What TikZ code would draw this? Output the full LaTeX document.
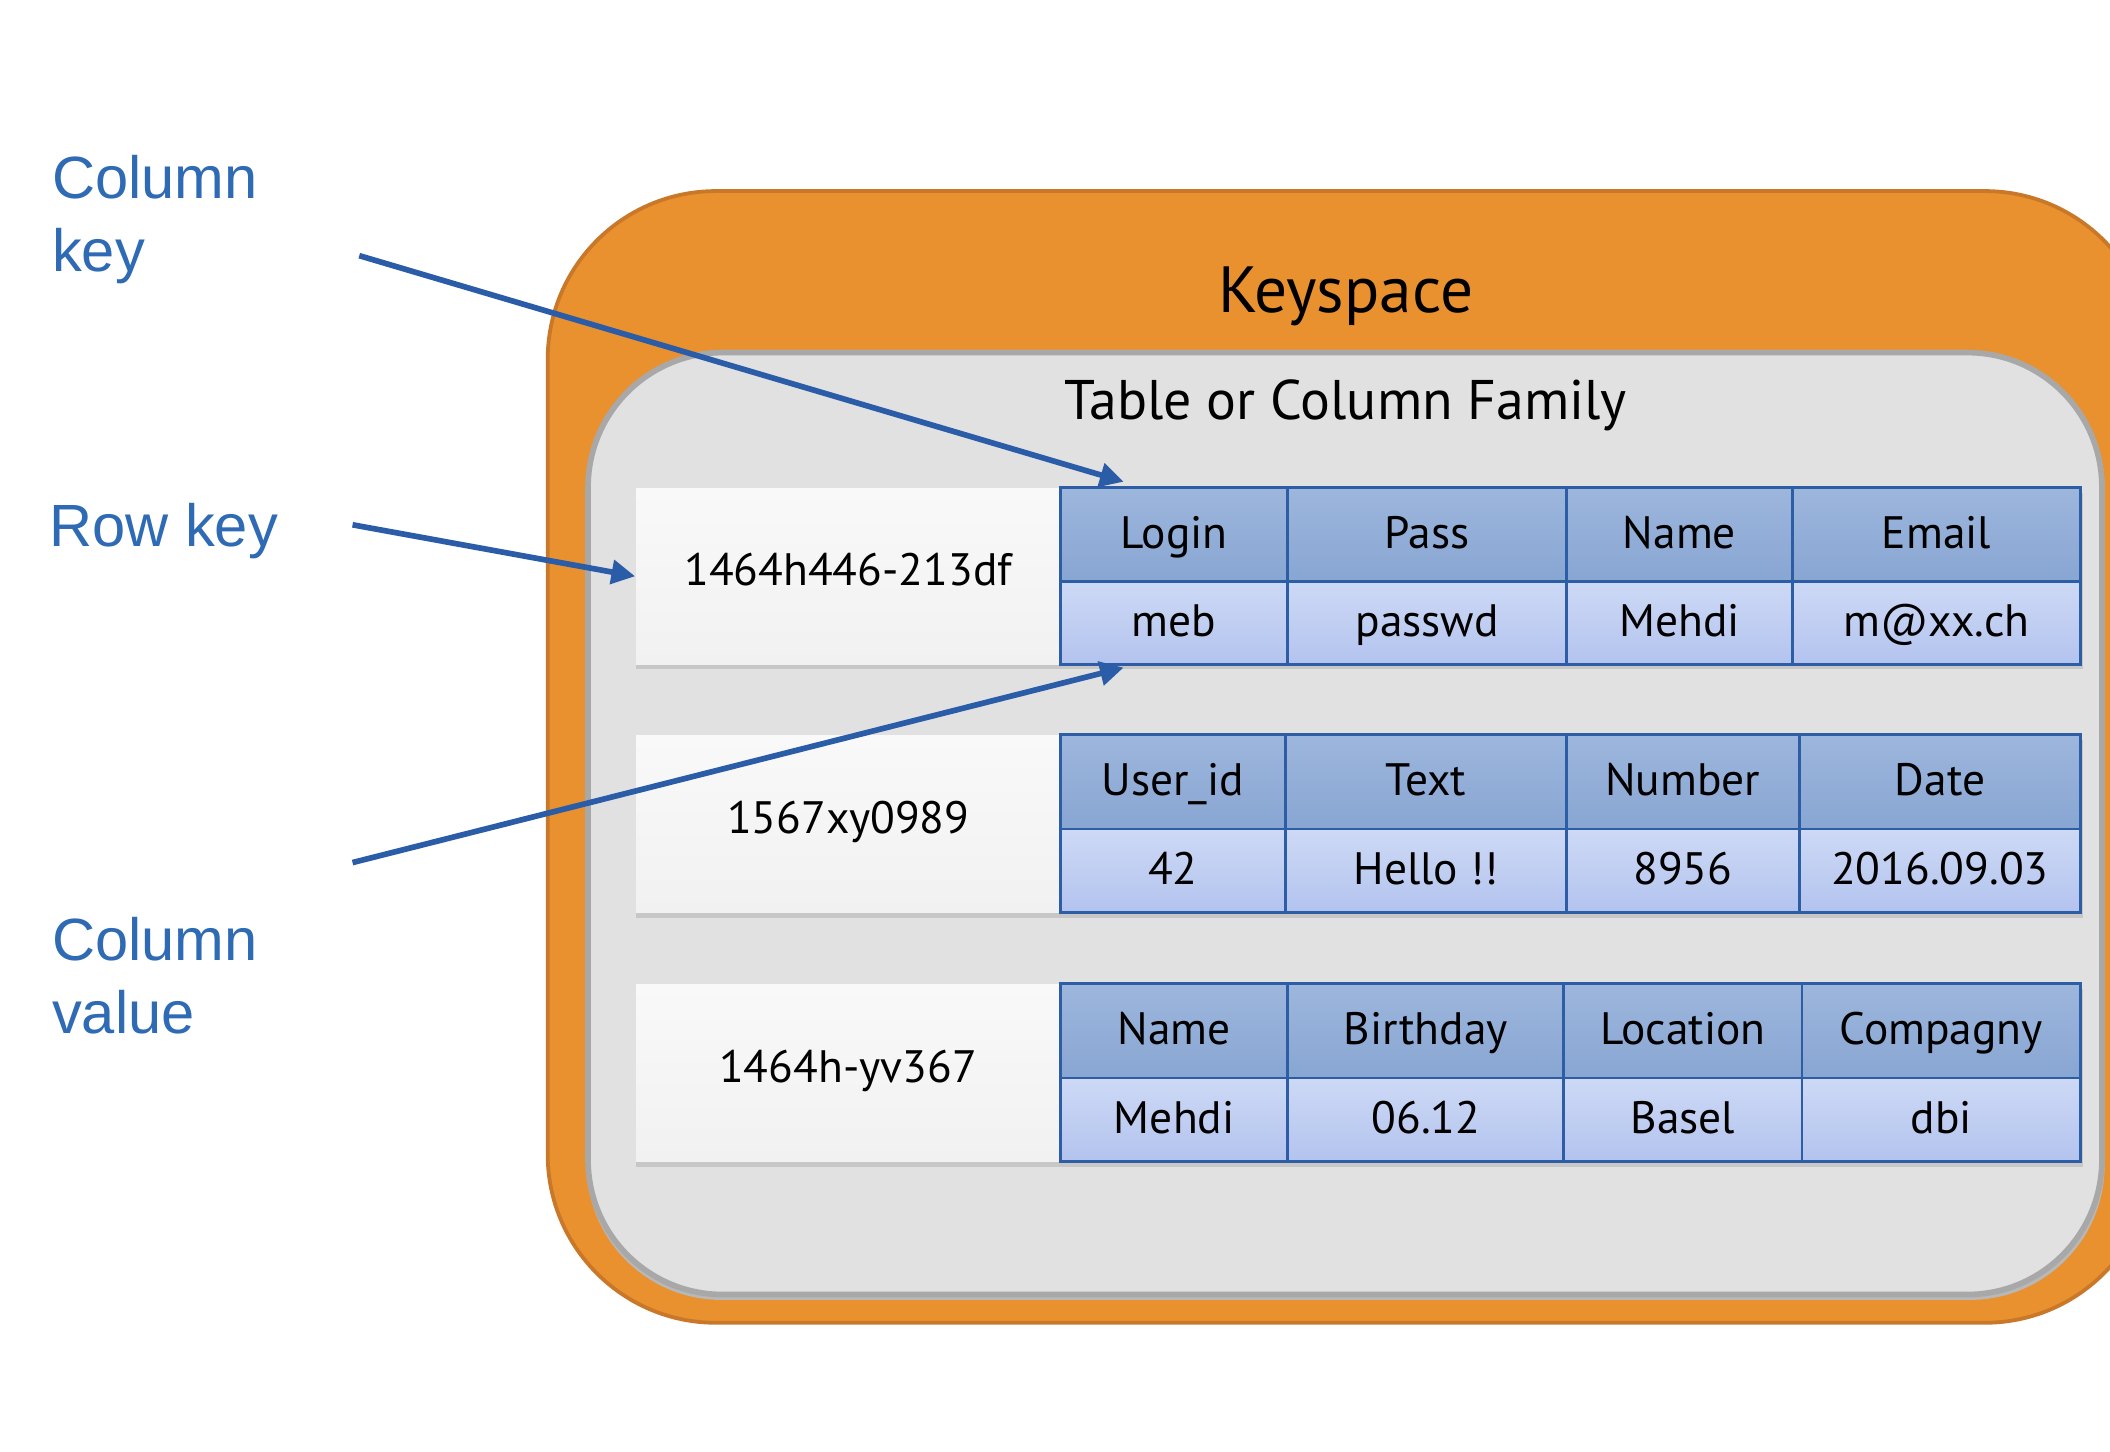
\documentclass[tikz,border=0pt]{standalone}
\usepackage{fontspec}
\setmainfont{PT Sans}
\newfontfamily\labelfont{Liberation Sans}
\usetikzlibrary{arrows.meta,calc}
\definecolor{ksorange}{HTML}{E9912F}
\definecolor{ksborder}{HTML}{C9782A}
\definecolor{cfgray}{HTML}{E1E1E1}
\definecolor{cfborder}{HTML}{A8A8A8}
\definecolor{hdrtop}{HTML}{9DB6DC}
\definecolor{hdrbot}{HTML}{88A6D3}
\definecolor{valtop}{HTML}{CDD9F5}
\definecolor{valbot}{HTML}{B3C3EE}
\definecolor{cellline}{HTML}{2D5DA5}
\definecolor{arrowblue}{HTML}{2B5CA8}
\definecolor{labelblue}{HTML}{2F6BB5}
\definecolor{keywhite}{HTML}{F9F9F9}
\definecolor{keygray}{HTML}{F1F1F1}
\tikzset{
  celltext/.style={font=\fontsize{9.6}{11}\selectfont, text height=0.70em, text depth=0.12em},
  hdr/.style={draw=cellline, line width=0.6pt, top color=hdrtop, bottom color=hdrbot,
    minimum height=0.70cm, inner sep=0pt, anchor=north west, celltext},
  val/.style={draw=cellline, line width=0.6pt, top color=valtop, bottom color=valbot,
    minimum height=0.62cm, inner sep=0pt, anchor=north west, celltext},
  keybox/.style={top color=keywhite, bottom color=keygray, minimum width=3.15cm, minimum height=1.31cm,
    inner sep=0pt, anchor=north west, celltext, text depth=0.3em},
  lbl/.style={text=labelblue, font=\labelfont\fontsize{12.6}{15.4}\selectfont,
    align=left, inner sep=0pt, anchor=base west},
  arr/.style={draw=arrowblue, line width=1.2pt, -{Triangle[length=5pt,width=5pt]}},
  rowshadow/.style={fill=black!22}
}
\begin{document}
\begin{tikzpicture}[x=0.01cm,y=-0.01cm]
\useasboundingbox (0,0) rectangle (1568,1079);
\clip (0,0) rectangle (1568,1079);
\fill[white] (0,0) rectangle (1568,1079);
% keyspace container
\draw[ksborder, fill=ksorange, line width=0.8pt, rounded corners=1.25cm] (407,142) rectangle (1600,983);
\node[font=\fontsize{13.8}{16}\selectfont] (ks) at (1000,220) {Keyspace};
% column family container
\fill[black!28, rounded corners=1cm] (436,263) rectangle (1564,966);
\draw[cfborder, fill=cfgray, line width=1.2pt, rounded corners=1cm] (437,262) rectangle (1562,962);
\node[font=\fontsize{11.8}{14}\selectfont] (cf) at (1000,301) {Table or Column Family};
% row shadows
\fill[rowshadow] (473,366) rectangle (1548,497);
\fill[rowshadow] (473,550) rectangle (1548,682);
\fill[rowshadow] (473,735) rectangle (1548,867);
% row 1
\node[keybox] (k1) at (472,362) {1464h446-213df};
\node[hdr, minimum width=1.69cm] (h1-1) at (787,361) {Login};
\node[hdr, minimum width=2.07cm] (h1-2) at (956,361) {Pass};
\node[hdr, minimum width=1.68cm] (h1-3) at (1163,361) {Name};
\node[hdr, minimum width=2.14cm] (h1-4) at (1331,361) {Email};
\node[val, minimum width=1.69cm] (v1-1) at (787,431) {meb};
\node[val, minimum width=2.07cm] (v1-2) at (956,431) {passwd};
\node[val, minimum width=1.68cm] (v1-3) at (1163,431) {Mehdi};
\node[val, minimum width=2.14cm] (v1-4) at (1331,431) {m@xx.ch};
% row 2
\node[keybox] (k2) at (472,546) {1567xy0989};
\node[hdr, minimum width=1.67cm] (h2-1) at (787,545) {User\_id};
\node[hdr, minimum width=2.09cm] (h2-2) at (954,545) {Text};
\node[hdr, minimum width=1.73cm] (h2-3) at (1163,545) {Number};
\node[hdr, minimum width=2.09cm] (h2-4) at (1336,545) {Date};
\node[val, minimum width=1.67cm] (v2-1) at (787,615) {42};
\node[val, minimum width=2.09cm] (v2-2) at (954,615) {Hello !!};
\node[val, minimum width=1.73cm] (v2-3) at (1163,615) {8956};
\node[val, minimum width=2.09cm] (v2-4) at (1336,615) {2016.09.03};
% row 3
\node[keybox] (k3) at (472,731) {1464h-yv367};
\node[hdr, minimum width=1.69cm] (h3-1) at (787,730) {Name};
\node[hdr, minimum width=2.05cm] (h3-2) at (956,730) {Birthday};
\node[hdr, minimum width=1.77cm] (h3-3) at (1161,730) {Location};
\node[hdr, minimum width=2.07cm] (h3-4) at (1338,730) {Compagny};
\node[val, minimum width=1.69cm] (v3-1) at (787,800) {Mehdi};
\node[val, minimum width=2.05cm] (v3-2) at (956,800) {06.12};
\node[val, minimum width=1.77cm] (v3-3) at (1161,800) {Basel};
\node[val, minimum width=2.07cm] (v3-4) at (1338,800) {dbi};
% labels (base anchor = baseline of the last line)
\node[lbl] (lck) at (38,202) {Column\\key};
\node[lbl] (lrk) at (36,406) {Row key};
\node[lbl] (lcv) at (38,768) {Column\\value};
% arrows
\coordinate (ckstart) at (267,190);
\coordinate (rkstart) at (262,390);
\coordinate (cvstart) at (262,641);
\draw[arr] (ckstart) -- ($(h1-1.north west)+(48,-3)$);
\draw[arr] (rkstart) -- (k1.west);
\draw[arr] (cvstart) -- ($(v1-1.south west)+(48,1)$);
\end{tikzpicture}
\end{document}
